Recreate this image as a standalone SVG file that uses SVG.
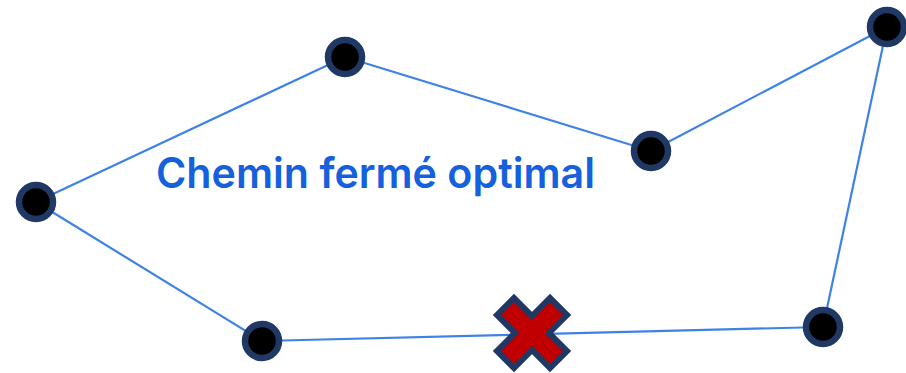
<svg xmlns="http://www.w3.org/2000/svg" width="906" height="373" viewBox="0 0 906 373">
<style>
.edge{fill:none;stroke:#3F82E6;stroke-width:2.2}
.node{fill:#000;stroke:#1F3864;stroke-width:6.5}
.label{font-family:Inter,"Liberation Sans",sans-serif;font-weight:600;font-size:42px;fill:#1560DC}
.cross{fill:#C00000;stroke:#1F3864;stroke-width:6;stroke-linejoin:miter}
</style>
<rect width="906" height="373" fill="#fff"/>
<g id="connectors">
<line class="edge" x1="36" y1="202" x2="345" y2="57"/>
<line class="edge" x1="345" y1="57" x2="651" y2="151"/>
<line class="edge" x1="651" y1="151" x2="887" y2="27"/>
<line class="edge" x1="887" y1="27" x2="823" y2="327"/>
<line class="edge" x1="823" y1="327" x2="262" y2="341"/>
<line class="edge" x1="262" y1="341" x2="36" y2="202"/>
</g>
<g id="node-1"><circle class="node" cx="36" cy="202" r="17"/></g>
<g id="node-2"><circle class="node" cx="345" cy="57" r="17"/></g>
<g id="node-3"><circle class="node" cx="651" cy="151" r="17"/></g>
<g id="node-4"><circle class="node" cx="887" cy="27" r="17"/></g>
<g id="node-5"><circle class="node" cx="823" cy="327" r="17"/></g>
<g id="node-6"><circle class="node" cx="262" cy="341" r="17"/></g>
<g id="cross" transform="translate(532,333)">
<polygon class="cross" points="-35,-18 -18,-35 0,-17 18,-35 35,-18 17,0 35,18 18,35 0,17 -18,35 -35,18 -17,0"/>
</g>
<g id="title">
<text class="label" x="156" y="188" textLength="439" lengthAdjust="spacingAndGlyphs">Chemin fermé optimal</text>
</g>
</svg>
